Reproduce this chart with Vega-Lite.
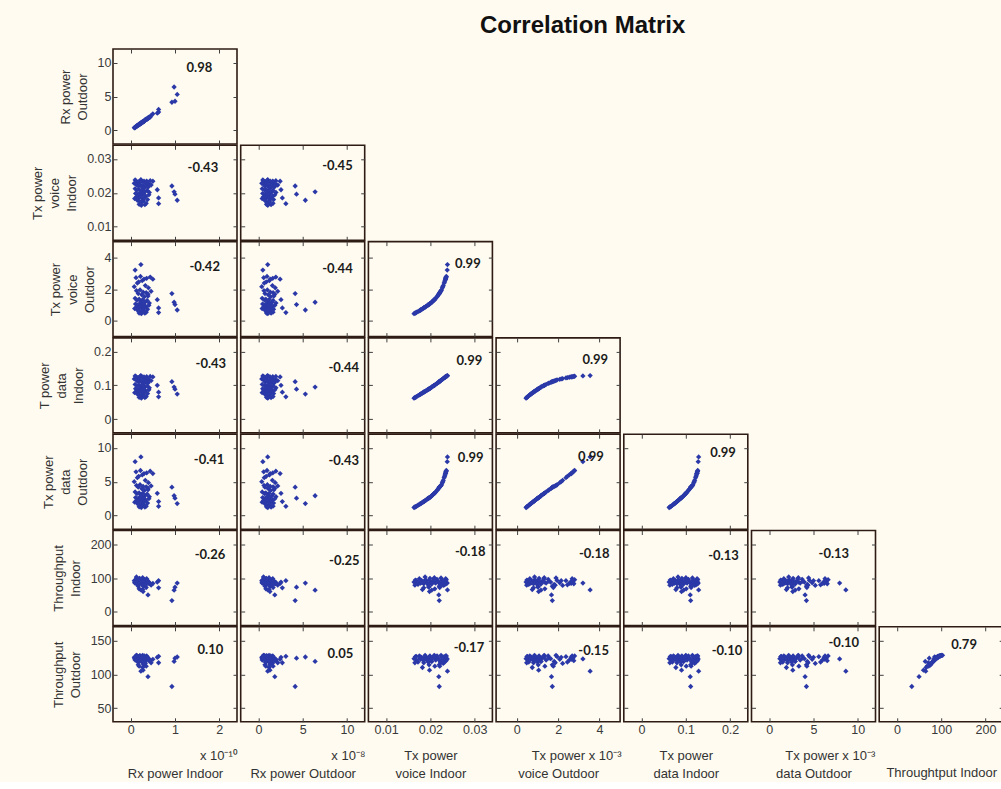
{
"$schema":"https://vega.github.io/schema/vega-lite/v6.json",
"background":"#fffbf0",
"padding":{"left":30,"top":13,"right":0,"bottom":0},
"title":{"text":"Correlation Matrix","font":"Liberation Sans","fontSize":24,"fontWeight":"bold","color":"#111111","anchor":"start","frame":"group","dx":367,"offset":10},
"datasets":{"obs":[
{"rxIn":0.93,"rxOut":4.15,"tvIn":0.022,"tvOut":1.72,"tdIn":0.111,"tdOut":4.2,"thIn":33.6,"thOut":82},
{"rxIn":0.98,"rxOut":6.4,"tvIn":0.0203,"tvOut":1.17,"tdIn":0.095,"tdOut":2.93,"thIn":64,"thOut":119},
{"rxIn":1.0,"rxOut":4.3,"tvIn":0.0196,"tvOut":1.02,"tdIn":0.0888,"tdOut":2.57,"thIn":73,"thOut":123.7},
{"rxIn":1.05,"rxOut":5.3,"tvIn":0.0178,"tvOut":0.68,"tdIn":0.0744,"tdOut":1.77,"thIn":85,"thOut":125.5},
{"rxIn":0.5,"rxOut":2.45,"tvIn":0.0234,"tvOut":2.63,"tdIn":0.125,"tdOut":6.2,"thIn":84,"thOut":122},
{"rxIn":0.6,"rxOut":2.55,"tvIn":0.0209,"tvOut":1.33,"tdIn":0.1002,"tdOut":3.29,"thIn":88,"thOut":125},
{"rxIn":0.63,"rxOut":2.7,"tvIn":0.0185,"tvOut":0.81,"tdIn":0.08,"tdOut":2.07,"thIn":71,"thOut":117},
{"rxIn":0.63,"rxOut":3.1,"tvIn":0.0168,"tvOut":0.52,"tdIn":0.0664,"tdOut":1.37,"thIn":92,"thOut":126.5},
{"rxIn":0.39,"rxOut":1.85,"tvIn":0.0219,"tvOut":1.68,"tdIn":0.11,"tdOut":4.05,"thIn":50,"thOut":96.5},
{"rxIn":0.23,"rxOut":1.05,"tvIn":0.02385,"tvOut":3.55,"tdIn":0.129,"tdOut":8.65,"thIn":65,"thOut":104.6},
{"rxIn":0.28,"rxOut":1.3,"tvIn":0.0198,"tvOut":1.06,"tdIn":0.0904,"tdOut":2.66,"thIn":60,"thOut":106},
{"rxIn":0.1,"rxOut":0.5,"tvIn":0.0238,"tvOut":3.2,"tdIn":0.128,"tdOut":7.95,"thIn":85,"thOut":122.7},
{"rxIn":0.12,"rxOut":0.6,"tvIn":0.0235,"tvOut":2.72,"tdIn":0.126,"tdOut":6.45,"thIn":88,"thOut":124},
{"rxIn":0.15,"rxOut":0.66,"tvIn":0.0231,"tvOut":2.38,"tdIn":0.122,"tdOut":5.6,"thIn":92,"thOut":126},
{"rxIn":0.18,"rxOut":0.88,"tvIn":0.0232,"tvOut":2.45,"tdIn":0.123,"tdOut":5.8,"thIn":80,"thOut":118},
{"rxIn":0.22,"rxOut":0.97,"tvIn":0.0236,"tvOut":2.8,"tdIn":0.127,"tdOut":6.65,"thIn":95,"thOut":127},
{"rxIn":0.26,"rxOut":1.24,"tvIn":0.0233,"tvOut":2.54,"tdIn":0.124,"tdOut":6.0,"thIn":84,"thOut":121},
{"rxIn":0.3,"rxOut":1.33,"tvIn":0.0234,"tvOut":2.63,"tdIn":0.125,"tdOut":6.2,"thIn":90,"thOut":125},
{"rxIn":0.33,"rxOut":1.58,"tvIn":0.0229,"tvOut":2.22,"tdIn":0.12,"tdOut":5.2,"thIn":78,"thOut":116},
{"rxIn":0.36,"rxOut":1.62,"tvIn":0.02345,"tvOut":2.68,"tdIn":0.1255,"tdOut":6.3,"thIn":98,"thOut":127},
{"rxIn":0.4,"rxOut":1.9,"tvIn":0.0227,"tvOut":2.08,"tdIn":0.118,"tdOut":4.85,"thIn":86,"thOut":122},
{"rxIn":0.44,"rxOut":1.97,"tvIn":0.02355,"tvOut":2.76,"tdIn":0.1265,"tdOut":6.55,"thIn":83,"thOut":120},
{"rxIn":0.13,"rxOut":0.63,"tvIn":0.0224,"tvOut":1.9,"tdIn":0.115,"tdOut":4.45,"thIn":100,"thOut":128},
{"rxIn":0.17,"rxOut":0.74,"tvIn":0.022,"tvOut":1.72,"tdIn":0.111,"tdOut":4.2,"thIn":76,"thOut":114},
{"rxIn":0.21,"rxOut":1.01,"tvIn":0.0225,"tvOut":1.95,"tdIn":0.116,"tdOut":4.55,"thIn":93,"thOut":126},
{"rxIn":0.25,"rxOut":1.11,"tvIn":0.0218,"tvOut":1.64,"tdIn":0.109,"tdOut":3.97,"thIn":88,"thOut":123},
{"rxIn":0.28,"rxOut":1.34,"tvIn":0.0222,"tvOut":1.81,"tdIn":0.113,"tdOut":4.3,"thIn":81,"thOut":119},
{"rxIn":0.31,"rxOut":1.39,"tvIn":0.0215,"tvOut":1.52,"tdIn":0.106,"tdOut":3.72,"thIn":96,"thOut":127},
{"rxIn":0.35,"rxOut":1.66,"tvIn":0.0221,"tvOut":1.77,"tdIn":0.112,"tdOut":4.25,"thIn":72,"thOut":112},
{"rxIn":0.39,"rxOut":1.75,"tvIn":0.0216,"tvOut":1.56,"tdIn":0.107,"tdOut":3.8,"thIn":90,"thOut":124},
{"rxIn":0.46,"rxOut":2.18,"tvIn":0.0223,"tvOut":1.86,"tdIn":0.114,"tdOut":4.38,"thIn":79,"thOut":117},
{"rxIn":0.1,"rxOut":0.43,"tvIn":0.0212,"tvOut":1.42,"tdIn":0.103,"tdOut":3.5,"thIn":85,"thOut":121},
{"rxIn":0.14,"rxOut":0.69,"tvIn":0.0208,"tvOut":1.31,"tdIn":0.0994,"tdOut":3.23,"thIn":97,"thOut":127},
{"rxIn":0.19,"rxOut":0.84,"tvIn":0.021,"tvOut":1.36,"tdIn":0.101,"tdOut":3.35,"thIn":68,"thOut":112},
{"rxIn":0.23,"rxOut":1.1,"tvIn":0.0205,"tvOut":1.22,"tdIn":0.097,"tdOut":3.05,"thIn":89,"thOut":124},
{"rxIn":0.27,"rxOut":1.2,"tvIn":0.0209,"tvOut":1.33,"tdIn":0.1002,"tdOut":3.29,"thIn":101,"thOut":128},
{"rxIn":0.32,"rxOut":1.52,"tvIn":0.0203,"tvOut":1.17,"tdIn":0.095,"tdOut":2.93,"thIn":82,"thOut":119},
{"rxIn":0.37,"rxOut":1.66,"tvIn":0.0207,"tvOut":1.28,"tdIn":0.0986,"tdOut":3.17,"thIn":92,"thOut":125},
{"rxIn":0.42,"rxOut":1.98,"tvIn":0.0201,"tvOut":1.12,"tdIn":0.093,"tdOut":2.8,"thIn":87,"thOut":122},
{"rxIn":0.11,"rxOut":0.48,"tvIn":0.0198,"tvOut":1.06,"tdIn":0.0904,"tdOut":2.66,"thIn":94,"thOut":126},
{"rxIn":0.16,"rxOut":0.78,"tvIn":0.0195,"tvOut":1.0,"tdIn":0.088,"tdOut":2.52,"thIn":80,"thOut":118},
{"rxIn":0.2,"rxOut":0.89,"tvIn":0.0199,"tvOut":1.08,"tdIn":0.0912,"tdOut":2.7,"thIn":99,"thOut":127},
{"rxIn":0.24,"rxOut":1.14,"tvIn":0.0193,"tvOut":0.96,"tdIn":0.0864,"tdOut":2.45,"thIn":86,"thOut":122},
{"rxIn":0.29,"rxOut":1.3,"tvIn":0.0197,"tvOut":1.04,"tdIn":0.0896,"tdOut":2.62,"thIn":75,"thOut":114},
{"rxIn":0.34,"rxOut":1.61,"tvIn":0.019,"tvOut":0.9,"tdIn":0.084,"tdOut":2.3,"thIn":91,"thOut":125},
{"rxIn":0.41,"rxOut":1.85,"tvIn":0.0194,"tvOut":0.98,"tdIn":0.0872,"tdOut":2.5,"thIn":84,"thOut":120},
{"rxIn":0.13,"rxOut":0.57,"tvIn":0.0188,"tvOut":0.86,"tdIn":0.0824,"tdOut":2.2,"thIn":103,"thOut":128},
{"rxIn":0.18,"rxOut":0.86,"tvIn":0.0185,"tvOut":0.81,"tdIn":0.08,"tdOut":2.07,"thIn":83,"thOut":120},
{"rxIn":0.22,"rxOut":1.05,"tvIn":0.0189,"tvOut":0.88,"tdIn":0.0832,"tdOut":2.25,"thIn":95,"thOut":126},
{"rxIn":0.27,"rxOut":1.21,"tvIn":0.0182,"tvOut":0.75,"tdIn":0.0776,"tdOut":1.94,"thIn":66,"thOut":110},
{"rxIn":0.31,"rxOut":1.47,"tvIn":0.0186,"tvOut":0.83,"tdIn":0.0808,"tdOut":2.11,"thIn":89,"thOut":123},
{"rxIn":0.38,"rxOut":1.71,"tvIn":0.018,"tvOut":0.72,"tdIn":0.076,"tdOut":1.85,"thIn":93,"thOut":125},
{"rxIn":0.15,"rxOut":0.72,"tvIn":0.0178,"tvOut":0.68,"tdIn":0.0744,"tdOut":1.77,"thIn":86,"thOut":122},
{"rxIn":0.2,"rxOut":0.88,"tvIn":0.0175,"tvOut":0.63,"tdIn":0.072,"tdOut":1.65,"thIn":98,"thOut":127},
{"rxIn":0.25,"rxOut":1.19,"tvIn":0.0172,"tvOut":0.58,"tdIn":0.0696,"tdOut":1.53,"thIn":81,"thOut":118},
{"rxIn":0.29,"rxOut":1.29,"tvIn":0.0176,"tvOut":0.65,"tdIn":0.0728,"tdOut":1.69,"thIn":90,"thOut":124},
{"rxIn":0.35,"rxOut":1.65,"tvIn":0.0169,"tvOut":0.54,"tdIn":0.0672,"tdOut":1.4,"thIn":85,"thOut":121},
{"rxIn":0.19,"rxOut":0.91,"tvIn":0.0166,"tvOut":0.49,"tdIn":0.0648,"tdOut":1.3,"thIn":94,"thOut":126},
{"rxIn":0.24,"rxOut":1.06,"tvIn":0.0163,"tvOut":0.45,"tdIn":0.0624,"tdOut":1.2,"thIn":88,"thOut":123},
{"rxIn":0.32,"rxOut":1.43,"tvIn":0.0165,"tvOut":0.48,"tdIn":0.064,"tdOut":1.27,"thIn":79,"thOut":117},
{"rxIn":0.08,"rxOut":0.38,"tvIn":0.0228,"tvOut":2.15,"tdIn":0.119,"tdOut":5.0,"thIn":92,"thOut":125},
{"rxIn":0.09,"rxOut":0.42,"tvIn":0.0183,"tvOut":0.77,"tdIn":0.0784,"tdOut":1.98,"thIn":87,"thOut":123}
]},
"columns":7,
"spacing":{"row":1.3,"column":3.7},
"bounds":"flush",
"concat":[
{"width":124,"height":95,"layer":[
 {"data":{"name":"obs"},"mark":"point","encoding":{
  "x":{"field":"rxIn","type":"quantitative","scale":{"domain":[-0.28,2.3]},"axis":{"values":[0,1,2],"labels":false,"title":null}},
  "y":{"field":"rxOut","type":"quantitative","scale":{"domain":[-1.45,11.6]},"axis":{"values":[0,5,10],"title":["Rx power","Outdoor"]}}}},
 {"data":{"values":[{"r":"0.98"}]},"mark":"text","encoding":{
  "x":{"datum":1.55,"type":"quantitative","axis":{"orient":"top","values":[0,1,2],"labels":false,"title":null}},
  "y":{"datum":9.25,"type":"quantitative","axis":{"orient":"right","values":[0,5,10],"labels":false,"title":null}},
  "text":{"field":"r","type":"nominal"}}}
 ],"resolve":{"axis":{"x":"independent","y":"independent"}}},
{"width":124,"height":95,"data":{"values":[]},"mark":"point","view":{"stroke":null}},
{"width":124,"height":95,"data":{"values":[]},"mark":"point","view":{"stroke":null}},
{"width":124,"height":95,"data":{"values":[]},"mark":"point","view":{"stroke":null}},
{"width":124,"height":95,"data":{"values":[]},"mark":"point","view":{"stroke":null}},
{"width":124,"height":95,"data":{"values":[]},"mark":"point","view":{"stroke":null}},
{"width":124,"height":95,"data":{"values":[]},"mark":"point","view":{"stroke":null}},

{"width":124,"height":95,"layer":[
 {"data":{"name":"obs"},"mark":"point","encoding":{
  "x":{"field":"rxIn","type":"quantitative","scale":{"domain":[-0.28,2.3]},"axis":{"values":[0,1,2],"labels":false,"title":null}},
  "y":{"field":"tvIn","type":"quantitative","scale":{"domain":[0.007,0.033]},"axis":{"values":[0.01,0.02,0.03],"title":["Tx power","voice","Indoor"]}}}},
 {"data":{"values":[{"r":"-0.43"}]},"mark":"text","encoding":{
  "x":{"datum":1.63,"type":"quantitative","axis":{"orient":"top","values":[0,1,2],"labels":false,"title":null}},
  "y":{"datum":0.0273,"type":"quantitative","axis":{"orient":"right","values":[0.01,0.02,0.03],"labels":false,"title":null}},
  "text":{"field":"r","type":"nominal"}}}
 ],"resolve":{"axis":{"x":"independent","y":"independent"}}},
{"width":124,"height":95,"layer":[
 {"data":{"name":"obs"},"mark":"point","encoding":{
  "x":{"field":"rxOut","type":"quantitative","scale":{"domain":[-1.45,11.6]},"axis":{"values":[0,5,10],"labels":false,"title":null}},
  "y":{"field":"tvIn","type":"quantitative","scale":{"domain":[0.007,0.033]},"axis":{"values":[0.01,0.02,0.03],"labels":false,"title":null}}}},
 {"data":{"values":[{"r":"-0.45"}]},"mark":"text","encoding":{
  "x":{"datum":8.92,"type":"quantitative","axis":{"orient":"top","values":[0,5,10],"labels":false,"title":null}},
  "y":{"datum":0.0278,"type":"quantitative","axis":{"orient":"right","values":[0.01,0.02,0.03],"labels":false,"title":null}},
  "text":{"field":"r","type":"nominal"}}}
 ],"resolve":{"axis":{"x":"independent","y":"independent"}}},
{"width":124,"height":95,"data":{"values":[]},"mark":"point","view":{"stroke":null}},
{"width":124,"height":95,"data":{"values":[]},"mark":"point","view":{"stroke":null}},
{"width":124,"height":95,"data":{"values":[]},"mark":"point","view":{"stroke":null}},
{"width":124,"height":95,"data":{"values":[]},"mark":"point","view":{"stroke":null}},
{"width":124,"height":95,"data":{"values":[]},"mark":"point","view":{"stroke":null}},

{"width":124,"height":95,"layer":[
 {"data":{"name":"obs"},"mark":"point","encoding":{
  "x":{"field":"rxIn","type":"quantitative","scale":{"domain":[-0.28,2.3]},"axis":{"values":[0,1,2],"labels":false,"title":null}},
  "y":{"field":"tvOut","type":"quantitative","scale":{"domain":[-0.6,4.62]},"axis":{"values":[0,2,4],"title":["Tx power","voice","Outdoor"]}}}},
 {"data":{"values":[{"r":"-0.42"}]},"mark":"text","encoding":{
  "x":{"datum":1.67,"type":"quantitative","axis":{"orient":"top","values":[0,1,2],"labels":false,"title":null}},
  "y":{"datum":3.39,"type":"quantitative","axis":{"orient":"right","values":[0,2,4],"labels":false,"title":null}},
  "text":{"field":"r","type":"nominal"}}}
 ],"resolve":{"axis":{"x":"independent","y":"independent"}}},
{"width":124,"height":95,"layer":[
 {"data":{"name":"obs"},"mark":"point","encoding":{
  "x":{"field":"rxOut","type":"quantitative","scale":{"domain":[-1.45,11.6]},"axis":{"values":[0,5,10],"labels":false,"title":null}},
  "y":{"field":"tvOut","type":"quantitative","scale":{"domain":[-0.6,4.62]},"axis":{"values":[0,2,4],"labels":false,"title":null}}}},
 {"data":{"values":[{"r":"-0.44"}]},"mark":"text","encoding":{
  "x":{"datum":8.92,"type":"quantitative","axis":{"orient":"top","values":[0,5,10],"labels":false,"title":null}},
  "y":{"datum":3.3,"type":"quantitative","axis":{"orient":"right","values":[0,2,4],"labels":false,"title":null}},
  "text":{"field":"r","type":"nominal"}}}
 ],"resolve":{"axis":{"x":"independent","y":"independent"}}},
{"width":124,"height":95,"layer":[
 {"data":{"name":"obs"},"mark":"point","encoding":{
  "x":{"field":"tvIn","type":"quantitative","scale":{"domain":[0.007,0.033]},"axis":{"values":[0.01,0.02,0.03],"labels":false,"title":null}},
  "y":{"field":"tvOut","type":"quantitative","scale":{"domain":[-0.6,4.62]},"axis":{"values":[0,2,4],"labels":false,"title":null}}}},
 {"data":{"values":[{"r":"0.99"}]},"mark":"text","encoding":{
  "x":{"datum":0.02845,"type":"quantitative","axis":{"orient":"top","values":[0.01,0.02,0.03],"labels":false,"title":null}},
  "y":{"datum":3.58,"type":"quantitative","axis":{"orient":"right","values":[0,2,4],"labels":false,"title":null}},
  "text":{"field":"r","type":"nominal"}}}
 ],"resolve":{"axis":{"x":"independent","y":"independent"}}},
{"width":124,"height":95,"data":{"values":[]},"mark":"point","view":{"stroke":null}},
{"width":124,"height":95,"data":{"values":[]},"mark":"point","view":{"stroke":null}},
{"width":124,"height":95,"data":{"values":[]},"mark":"point","view":{"stroke":null}},
{"width":124,"height":95,"data":{"values":[]},"mark":"point","view":{"stroke":null}},

{"width":124,"height":95,"layer":[
 {"data":{"name":"obs"},"mark":"point","encoding":{
  "x":{"field":"rxIn","type":"quantitative","scale":{"domain":[-0.28,2.3]},"axis":{"values":[0,1,2],"labels":false,"title":null}},
  "y":{"field":"tdIn","type":"quantitative","scale":{"domain":[-0.028,0.226]},"axis":{"values":[0,0.1,0.2],"title":["T power","data","Indoor"]}}}},
 {"data":{"values":[{"r":"-0.43"}]},"mark":"text","encoding":{
  "x":{"datum":1.81,"type":"quantitative","axis":{"orient":"top","values":[0,1,2],"labels":false,"title":null}},
  "y":{"datum":0.163,"type":"quantitative","axis":{"orient":"right","values":[0,0.1,0.2],"labels":false,"title":null}},
  "text":{"field":"r","type":"nominal"}}}
 ],"resolve":{"axis":{"x":"independent","y":"independent"}}},
{"width":124,"height":95,"layer":[
 {"data":{"name":"obs"},"mark":"point","encoding":{
  "x":{"field":"rxOut","type":"quantitative","scale":{"domain":[-1.45,11.6]},"axis":{"values":[0,5,10],"labels":false,"title":null}},
  "y":{"field":"tdIn","type":"quantitative","scale":{"domain":[-0.028,0.226]},"axis":{"values":[0,0.1,0.2],"labels":false,"title":null}}}},
 {"data":{"values":[{"r":"-0.44"}]},"mark":"text","encoding":{
  "x":{"datum":9.63,"type":"quantitative","axis":{"orient":"top","values":[0,5,10],"labels":false,"title":null}},
  "y":{"datum":0.15,"type":"quantitative","axis":{"orient":"right","values":[0,0.1,0.2],"labels":false,"title":null}},
  "text":{"field":"r","type":"nominal"}}}
 ],"resolve":{"axis":{"x":"independent","y":"independent"}}},
{"width":124,"height":95,"layer":[
 {"data":{"name":"obs"},"mark":"point","encoding":{
  "x":{"field":"tvIn","type":"quantitative","scale":{"domain":[0.007,0.033]},"axis":{"values":[0.01,0.02,0.03],"labels":false,"title":null}},
  "y":{"field":"tdIn","type":"quantitative","scale":{"domain":[-0.028,0.226]},"axis":{"values":[0,0.1,0.2],"labels":false,"title":null}}}},
 {"data":{"values":[{"r":"0.99"}]},"mark":"text","encoding":{
  "x":{"datum":0.0288,"type":"quantitative","axis":{"orient":"top","values":[0.01,0.02,0.03],"labels":false,"title":null}},
  "y":{"datum":0.171,"type":"quantitative","axis":{"orient":"right","values":[0,0.1,0.2],"labels":false,"title":null}},
  "text":{"field":"r","type":"nominal"}}}
 ],"resolve":{"axis":{"x":"independent","y":"independent"}}},
{"width":124,"height":95,"layer":[
 {"data":{"name":"obs"},"mark":"point","encoding":{
  "x":{"field":"tvOut","type":"quantitative","scale":{"domain":[-0.6,4.62]},"axis":{"values":[0,2,4],"labels":false,"title":null}},
  "y":{"field":"tdIn","type":"quantitative","scale":{"domain":[-0.028,0.226]},"axis":{"values":[0,0.1,0.2],"labels":false,"title":null}}}},
 {"data":{"values":[{"r":"0.99"}]},"mark":"text","encoding":{
  "x":{"datum":3.8,"type":"quantitative","axis":{"orient":"top","values":[0,2,4],"labels":false,"title":null}},
  "y":{"datum":0.175,"type":"quantitative","axis":{"orient":"right","values":[0,0.1,0.2],"labels":false,"title":null}},
  "text":{"field":"r","type":"nominal"}}}
 ],"resolve":{"axis":{"x":"independent","y":"independent"}}},
{"width":124,"height":95,"data":{"values":[]},"mark":"point","view":{"stroke":null}},
{"width":124,"height":95,"data":{"values":[]},"mark":"point","view":{"stroke":null}},
{"width":124,"height":95,"data":{"values":[]},"mark":"point","view":{"stroke":null}},

{"width":124,"height":95,"layer":[
 {"data":{"name":"obs"},"mark":"point","encoding":{
  "x":{"field":"rxIn","type":"quantitative","scale":{"domain":[-0.28,2.3]},"axis":{"values":[0,1,2],"labels":false,"title":null}},
  "y":{"field":"tdOut","type":"quantitative","scale":{"domain":[-1.3,11.4]},"axis":{"values":[0,5,10],"title":["Tx power","data","Outdoor"]}}}},
 {"data":{"values":[{"r":"-0.41"}]},"mark":"text","encoding":{
  "x":{"datum":1.77,"type":"quantitative","axis":{"orient":"top","values":[0,1,2],"labels":false,"title":null}},
  "y":{"datum":8.17,"type":"quantitative","axis":{"orient":"right","values":[0,5,10],"labels":false,"title":null}},
  "text":{"field":"r","type":"nominal"}}}
 ],"resolve":{"axis":{"x":"independent","y":"independent"}}},
{"width":124,"height":95,"layer":[
 {"data":{"name":"obs"},"mark":"point","encoding":{
  "x":{"field":"rxOut","type":"quantitative","scale":{"domain":[-1.45,11.6]},"axis":{"values":[0,5,10],"labels":false,"title":null}},
  "y":{"field":"tdOut","type":"quantitative","scale":{"domain":[-1.3,11.4]},"axis":{"values":[0,5,10],"labels":false,"title":null}}}},
 {"data":{"values":[{"r":"-0.43"}]},"mark":"text","encoding":{
  "x":{"datum":9.63,"type":"quantitative","axis":{"orient":"top","values":[0,5,10],"labels":false,"title":null}},
  "y":{"datum":8.04,"type":"quantitative","axis":{"orient":"right","values":[0,5,10],"labels":false,"title":null}},
  "text":{"field":"r","type":"nominal"}}}
 ],"resolve":{"axis":{"x":"independent","y":"independent"}}},
{"width":124,"height":95,"layer":[
 {"data":{"name":"obs"},"mark":"point","encoding":{
  "x":{"field":"tvIn","type":"quantitative","scale":{"domain":[0.007,0.033]},"axis":{"values":[0.01,0.02,0.03],"labels":false,"title":null}},
  "y":{"field":"tdOut","type":"quantitative","scale":{"domain":[-1.3,11.4]},"axis":{"values":[0,5,10],"labels":false,"title":null}}}},
 {"data":{"values":[{"r":"0.99"}]},"mark":"text","encoding":{
  "x":{"datum":0.0291,"type":"quantitative","axis":{"orient":"top","values":[0.01,0.02,0.03],"labels":false,"title":null}},
  "y":{"datum":8.54,"type":"quantitative","axis":{"orient":"right","values":[0,5,10],"labels":false,"title":null}},
  "text":{"field":"r","type":"nominal"}}}
 ],"resolve":{"axis":{"x":"independent","y":"independent"}}},
{"width":124,"height":95,"layer":[
 {"data":{"name":"obs"},"mark":"point","encoding":{
  "x":{"field":"tvOut","type":"quantitative","scale":{"domain":[-0.6,4.62]},"axis":{"values":[0,2,4],"labels":false,"title":null}},
  "y":{"field":"tdOut","type":"quantitative","scale":{"domain":[-1.3,11.4]},"axis":{"values":[0,5,10],"labels":false,"title":null}}}},
 {"data":{"values":[{"r":"0.99"}]},"mark":"text","encoding":{
  "x":{"datum":3.59,"type":"quantitative","axis":{"orient":"top","values":[0,2,4],"labels":false,"title":null}},
  "y":{"datum":8.63,"type":"quantitative","axis":{"orient":"right","values":[0,5,10],"labels":false,"title":null}},
  "text":{"field":"r","type":"nominal"}}}
 ],"resolve":{"axis":{"x":"independent","y":"independent"}}},
{"width":124,"height":95,"layer":[
 {"data":{"name":"obs"},"mark":"point","encoding":{
  "x":{"field":"tdIn","type":"quantitative","scale":{"domain":[-0.028,0.226]},"axis":{"values":[0,0.1,0.2],"labels":false,"title":null}},
  "y":{"field":"tdOut","type":"quantitative","scale":{"domain":[-1.3,11.4]},"axis":{"values":[0,5,10],"labels":false,"title":null}}}},
 {"data":{"values":[{"r":"0.99"}]},"mark":"text","encoding":{
  "x":{"datum":0.184,"type":"quantitative","axis":{"orient":"top","values":[0,0.1,0.2],"labels":false,"title":null}},
  "y":{"datum":9.3,"type":"quantitative","axis":{"orient":"right","values":[0,5,10],"labels":false,"title":null}},
  "text":{"field":"r","type":"nominal"}}}
 ],"resolve":{"axis":{"x":"independent","y":"independent"}}},
{"width":124,"height":95,"data":{"values":[]},"mark":"point","view":{"stroke":null}},
{"width":124,"height":95,"data":{"values":[]},"mark":"point","view":{"stroke":null}},

{"width":124,"height":95,"layer":[
 {"data":{"name":"obs"},"mark":"point","encoding":{
  "x":{"field":"rxIn","type":"quantitative","scale":{"domain":[-0.28,2.3]},"axis":{"values":[0,1,2],"labels":false,"title":null}},
  "y":{"field":"thIn","type":"quantitative","scale":{"domain":[-30,227]},"axis":{"values":[0,100,200],"title":["Throughput","Indoor"]}}}},
 {"data":{"values":[{"r":"-0.26"}]},"mark":"text","encoding":{
  "x":{"datum":1.79,"type":"quantitative","axis":{"orient":"top","values":[0,1,2],"labels":false,"title":null}},
  "y":{"datum":168.9,"type":"quantitative","axis":{"orient":"right","values":[0,100,200],"labels":false,"title":null}},
  "text":{"field":"r","type":"nominal"}}}
 ],"resolve":{"axis":{"x":"independent","y":"independent"}}},
{"width":124,"height":95,"layer":[
 {"data":{"name":"obs"},"mark":"point","encoding":{
  "x":{"field":"rxOut","type":"quantitative","scale":{"domain":[-1.45,11.6]},"axis":{"values":[0,5,10],"labels":false,"title":null}},
  "y":{"field":"thIn","type":"quantitative","scale":{"domain":[-30,227]},"axis":{"values":[0,100,200],"labels":false,"title":null}}}},
 {"data":{"values":[{"r":"-0.25"}]},"mark":"text","encoding":{
  "x":{"datum":9.7,"type":"quantitative","axis":{"orient":"top","values":[0,5,10],"labels":false,"title":null}},
  "y":{"datum":150.9,"type":"quantitative","axis":{"orient":"right","values":[0,100,200],"labels":false,"title":null}},
  "text":{"field":"r","type":"nominal"}}}
 ],"resolve":{"axis":{"x":"independent","y":"independent"}}},
{"width":124,"height":95,"layer":[
 {"data":{"name":"obs"},"mark":"point","encoding":{
  "x":{"field":"tvIn","type":"quantitative","scale":{"domain":[0.007,0.033]},"axis":{"values":[0.01,0.02,0.03],"labels":false,"title":null}},
  "y":{"field":"thIn","type":"quantitative","scale":{"domain":[-30,227]},"axis":{"values":[0,100,200],"labels":false,"title":null}}}},
 {"data":{"values":[{"r":"-0.18"}]},"mark":"text","encoding":{
  "x":{"datum":0.029,"type":"quantitative","axis":{"orient":"top","values":[0.01,0.02,0.03],"labels":false,"title":null}},
  "y":{"datum":175.3,"type":"quantitative","axis":{"orient":"right","values":[0,100,200],"labels":false,"title":null}},
  "text":{"field":"r","type":"nominal"}}}
 ],"resolve":{"axis":{"x":"independent","y":"independent"}}},
{"width":124,"height":95,"layer":[
 {"data":{"name":"obs"},"mark":"point","encoding":{
  "x":{"field":"tvOut","type":"quantitative","scale":{"domain":[-0.6,4.62]},"axis":{"values":[0,2,4],"labels":false,"title":null}},
  "y":{"field":"thIn","type":"quantitative","scale":{"domain":[-30,227]},"axis":{"values":[0,100,200],"labels":false,"title":null}}}},
 {"data":{"values":[{"r":"-0.18"}]},"mark":"text","encoding":{
  "x":{"datum":3.75,"type":"quantitative","axis":{"orient":"top","values":[0,2,4],"labels":false,"title":null}},
  "y":{"datum":170.7,"type":"quantitative","axis":{"orient":"right","values":[0,100,200],"labels":false,"title":null}},
  "text":{"field":"r","type":"nominal"}}}
 ],"resolve":{"axis":{"x":"independent","y":"independent"}}},
{"width":124,"height":95,"layer":[
 {"data":{"name":"obs"},"mark":"point","encoding":{
  "x":{"field":"tdIn","type":"quantitative","scale":{"domain":[-0.028,0.226]},"axis":{"values":[0,0.1,0.2],"labels":false,"title":null}},
  "y":{"field":"thIn","type":"quantitative","scale":{"domain":[-30,227]},"axis":{"values":[0,100,200],"labels":false,"title":null}}}},
 {"data":{"values":[{"r":"-0.13"}]},"mark":"text","encoding":{
  "x":{"datum":0.185,"type":"quantitative","axis":{"orient":"top","values":[0,0.1,0.2],"labels":false,"title":null}},
  "y":{"datum":166.1,"type":"quantitative","axis":{"orient":"right","values":[0,100,200],"labels":false,"title":null}},
  "text":{"field":"r","type":"nominal"}}}
 ],"resolve":{"axis":{"x":"independent","y":"independent"}}},
{"width":124,"height":95,"layer":[
 {"data":{"name":"obs"},"mark":"point","encoding":{
  "x":{"field":"tdOut","type":"quantitative","scale":{"domain":[-1.3,11.4]},"axis":{"values":[0,5,10],"labels":false,"title":null}},
  "y":{"field":"thIn","type":"quantitative","scale":{"domain":[-30,227]},"axis":{"values":[0,100,200],"labels":false,"title":null}}}},
 {"data":{"values":[{"r":"-0.13"}]},"mark":"text","encoding":{
  "x":{"datum":7.3,"type":"quantitative","axis":{"orient":"top","values":[0,5,10],"labels":false,"title":null}},
  "y":{"datum":170.7,"type":"quantitative","axis":{"orient":"right","values":[0,100,200],"labels":false,"title":null}},
  "text":{"field":"r","type":"nominal"}}}
 ],"resolve":{"axis":{"x":"independent","y":"independent"}}},
{"width":124,"height":95,"data":{"values":[]},"mark":"point","view":{"stroke":null}},

{"width":124,"height":95,"layer":[
 {"data":{"name":"obs"},"mark":"point","encoding":{
  "x":{"field":"rxIn","type":"quantitative","scale":{"domain":[-0.28,2.3]},"axis":{"values":[0,1,2],"title":["\u200c\u00a0\u00a0\u00a0\u00a0\u00a0\u00a0\u00a0\u00a0\u00a0\u00a0\u00a0\u00a0\u00a0\u00a0\u00a0\u00a0\u00a0\u00a0\u00a0\u00a0\u00a0\u00a0\u00a0\u00a0x 10\u207b\u00b9\u2070","Rx power Indoor"]}},
  "y":{"field":"thOut","type":"quantitative","scale":{"domain":[34,163]},"axis":{"values":[50,100,150],"title":["Throughput","Outdoor"]}}}},
 {"data":{"values":[{"r":"0.10"}]},"mark":"text","encoding":{
  "x":{"datum":1.8,"type":"quantitative","axis":{"orient":"top","values":[0,1,2],"labels":false,"title":null}},
  "y":{"datum":135.7,"type":"quantitative","axis":{"orient":"right","values":[50,100,150],"labels":false,"title":null}},
  "text":{"field":"r","type":"nominal"}}}
 ],"resolve":{"axis":{"x":"independent","y":"independent"}}},
{"width":124,"height":95,"layer":[
 {"data":{"name":"obs"},"mark":"point","encoding":{
  "x":{"field":"rxOut","type":"quantitative","scale":{"domain":[-1.45,11.6]},"axis":{"values":[0,5,10],"title":["\u200c\u00a0\u00a0\u00a0\u00a0\u00a0\u00a0\u00a0\u00a0\u00a0\u00a0\u00a0\u00a0\u00a0\u00a0\u00a0\u00a0\u00a0\u00a0\u00a0\u00a0\u00a0\u00a0\u00a0\u00a0\u00a0x 10\u207b\u2078","Rx power Outdoor"]}},
  "y":{"field":"thOut","type":"quantitative","scale":{"domain":[34,163]},"axis":{"values":[50,100,150],"labels":false,"title":null}}}},
 {"data":{"values":[{"r":"0.05"}]},"mark":"text","encoding":{
  "x":{"datum":9.26,"type":"quantitative","axis":{"orient":"top","values":[0,5,10],"labels":false,"title":null}},
  "y":{"datum":129.8,"type":"quantitative","axis":{"orient":"right","values":[50,100,150],"labels":false,"title":null}},
  "text":{"field":"r","type":"nominal"}}}
 ],"resolve":{"axis":{"x":"independent","y":"independent"}}},
{"width":124,"height":95,"layer":[
 {"data":{"name":"obs"},"mark":"point","encoding":{
  "x":{"field":"tvIn","type":"quantitative","scale":{"domain":[0.007,0.033]},"axis":{"values":[0.01,0.02,0.03],"title":["Tx power","voice Indoor"]}},
  "y":{"field":"thOut","type":"quantitative","scale":{"domain":[34,163]},"axis":{"values":[50,100,150],"labels":false,"title":null}}}},
 {"data":{"values":[{"r":"-0.17"}]},"mark":"text","encoding":{
  "x":{"datum":0.0287,"type":"quantitative","axis":{"orient":"top","values":[0.01,0.02,0.03],"labels":false,"title":null}},
  "y":{"datum":139,"type":"quantitative","axis":{"orient":"right","values":[50,100,150],"labels":false,"title":null}},
  "text":{"field":"r","type":"nominal"}}}
 ],"resolve":{"axis":{"x":"independent","y":"independent"}}},
{"width":124,"height":95,"layer":[
 {"data":{"name":"obs"},"mark":"point","encoding":{
  "x":{"field":"tvOut","type":"quantitative","scale":{"domain":[-0.6,4.62]},"axis":{"values":[0,2,4],"title":["\u200c\u00a0\u00a0\u00a0\u00a0\u00a0\u00a0\u00a0\u00a0\u00a0\u00a0Tx power x 10\u207b\u00b3","voice Outdoor"]}},
  "y":{"field":"thOut","type":"quantitative","scale":{"domain":[34,163]},"axis":{"values":[50,100,150],"labels":false,"title":null}}}},
 {"data":{"values":[{"r":"-0.15"}]},"mark":"text","encoding":{
  "x":{"datum":3.72,"type":"quantitative","axis":{"orient":"top","values":[0,2,4],"labels":false,"title":null}},
  "y":{"datum":134.4,"type":"quantitative","axis":{"orient":"right","values":[50,100,150],"labels":false,"title":null}},
  "text":{"field":"r","type":"nominal"}}}
 ],"resolve":{"axis":{"x":"independent","y":"independent"}}},
{"width":124,"height":95,"layer":[
 {"data":{"name":"obs"},"mark":"point","encoding":{
  "x":{"field":"tdIn","type":"quantitative","scale":{"domain":[-0.028,0.226]},"axis":{"values":[0,0.1,0.2],"title":["Tx power","data Indoor"]}},
  "y":{"field":"thOut","type":"quantitative","scale":{"domain":[34,163]},"axis":{"values":[50,100,150],"labels":false,"title":null}}}},
 {"data":{"values":[{"r":"-0.10"}]},"mark":"text","encoding":{
  "x":{"datum":0.193,"type":"quantitative","axis":{"orient":"top","values":[0,0.1,0.2],"labels":false,"title":null}},
  "y":{"datum":134.4,"type":"quantitative","axis":{"orient":"right","values":[50,100,150],"labels":false,"title":null}},
  "text":{"field":"r","type":"nominal"}}}
 ],"resolve":{"axis":{"x":"independent","y":"independent"}}},
{"width":124,"height":95,"layer":[
 {"data":{"name":"obs"},"mark":"point","encoding":{
  "x":{"field":"tdOut","type":"quantitative","scale":{"domain":[-1.3,11.4]},"axis":{"values":[0,5,10],"title":["\u200c\u00a0\u00a0\u00a0\u00a0\u00a0\u00a0\u00a0\u00a0\u00a0Tx power x 10\u207b\u00b3","data Outdoor"]}},
  "y":{"field":"thOut","type":"quantitative","scale":{"domain":[34,163]},"axis":{"values":[50,100,150],"labels":false,"title":null}}}},
 {"data":{"values":[{"r":"-0.10"}]},"mark":"text","encoding":{
  "x":{"datum":8.42,"type":"quantitative","axis":{"orient":"top","values":[0,5,10],"labels":false,"title":null}},
  "y":{"datum":146.2,"type":"quantitative","axis":{"orient":"right","values":[50,100,150],"labels":false,"title":null}},
  "text":{"field":"r","type":"nominal"}}}
 ],"resolve":{"axis":{"x":"independent","y":"independent"}}},
{"width":124,"height":95,"layer":[
 {"data":{"name":"obs"},"mark":"point","encoding":{
  "x":{"field":"thIn","type":"quantitative","scale":{"domain":[-30,227]},"axis":{"values":[0,100,200],"title":"Throughtput Indoor","titlePadding":30}},
  "y":{"field":"thOut","type":"quantitative","scale":{"domain":[34,163]},"axis":{"values":[50,100,150],"labels":false,"title":null}}}},
 {"data":{"values":[{"r":"0.79"}]},"mark":"text","encoding":{
  "x":{"datum":151.7,"type":"quantitative","axis":{"orient":"top","values":[0,100,200],"labels":false,"title":null}},
  "y":{"datum":142.5,"type":"quantitative","axis":{"orient":"right","values":[50,100,150],"labels":false,"title":null}},
  "text":{"field":"r","type":"nominal"}}}
 ],"resolve":{"axis":{"x":"independent","y":"independent"}}}
],
"config":{
 "view":{"stroke":"#2e1c14","strokeWidth":1.6},
 "axis":{"domain":false,"grid":false,"tickSize":-4,"tickColor":"#404040","labelFont":"Liberation Sans","labelFontSize":12.5,"labelColor":"#3a3a3a","labelPadding":6,"titleFont":"Liberation Sans","titleFontSize":13,"titleFontWeight":"normal","titleColor":"#333333","titlePadding":8,"titleLineHeight":17,"format":"~r","labelFlush":false,"labelOverlap":false},
 "axisBottom":{"titlePadding":13,"titleLineHeight":18},
 "point":{"shape":"diamond","filled":true,"size":28,"color":"#2b39a8","opacity":1},
 "text":{"font":"Lato","fontWeight":"bold","fontSize":13,"color":"#1b1b1b"}
}
}
